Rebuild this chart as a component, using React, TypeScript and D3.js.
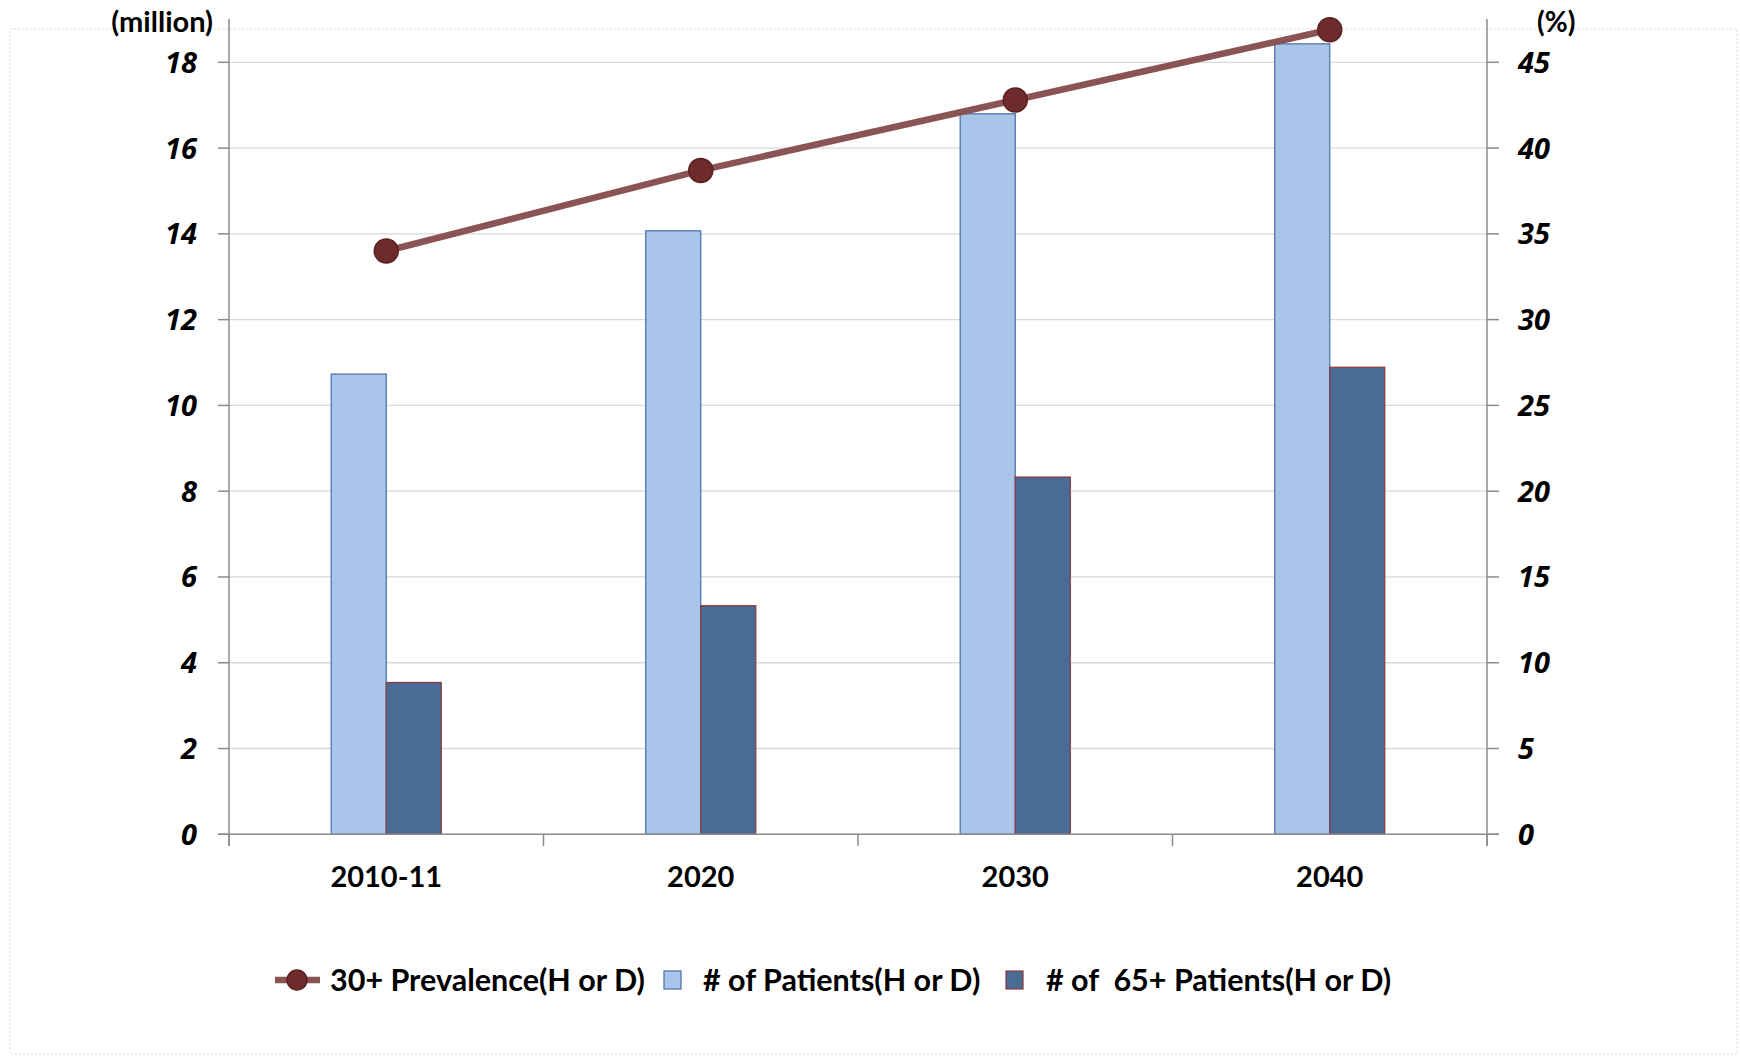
import React from "react";
import * as d3 from "d3";

const categories = ["2010-11", "2020", "2030", "2040"];
const patients = [10.73, 14.07, 16.8, 18.43];
const patients65 = [3.54, 5.33, 8.33, 10.89];
const prevalence = [34.0, 38.7, 42.8, 46.9];
const leftTicks = [0, 2, 4, 6, 8, 10, 12, 14, 16, 18];
const rightTicks = [0, 5, 10, 15, 20, 25, 30, 35, 40, 45];
const legendLabels = ["30+ Prevalence(H or D)", "# of Patients(H or D)", "# of  65+ Patients(H or D)"];

const W = 1740;
const H = 1059;
const X0 = 229;
const X1 = 1487;
const Y0 = 834.3;
const Y1 = 62.3;
const FONT = "Lato, 'Open Sans', sans-serif";

export default function App() {
  const x = d3.scaleBand<string>().domain(categories).range([X0, X1]).padding(0);
  const yL = d3.scaleLinear().domain([0, 18]).range([Y0, Y1]);
  const yR = d3.scaleLinear().domain([0, 45]).range([Y0, Y1]);
  const bw = x.bandwidth() * 0.175;
  const cx = (c: string) => (x(c) as number) + x.bandwidth() / 2;
  const line = d3
    .line<number>()
    .x((_, i) => cx(categories[i]))
    .y((d) => yR(d));

  const bandEdges = [...categories.map((c) => x(c) as number), X1];

  return (
    <div style={{ position: "absolute", left: 0, top: 0 }}>
      <svg width={W} height={H} style={{ display: "block" }}>
        <rect width={W} height={H} fill="#ffffff" />
        <rect x={10} y={29} width={1727} height={1025} fill="none" stroke="#f3ecec" strokeWidth={2} strokeDasharray="2 2" />
        {/* gridlines */}
        {leftTicks.filter((t) => t > 0).map((t) => (
          <line key={"g" + t} x1={X0} x2={X1} y1={yL(t)} y2={yL(t)} stroke="#d9d9d9" strokeWidth={1.3} />
        ))}
        {/* bars */}
        {categories.map((c, i) => (
          <g key={c}>
            <rect x={cx(c) - bw} y={yL(patients[i])} width={bw} height={Y0 - yL(patients[i])} fill="#a9c5ea" stroke="#4f76ab" strokeWidth={1.3} />
            <rect x={cx(c)} y={yL(patients65[i])} width={bw} height={Y0 - yL(patients65[i])} fill="#4a6b96" stroke="#8a3b3b" strokeWidth={1.2} />
          </g>
        ))}
        {/* axes */}
        <line x1={X0} x2={X0} y1={19} y2={846} stroke="#8c8c8c" strokeWidth={1.5} />
        <line x1={X1} x2={X1} y1={19} y2={846} stroke="#8c8c8c" strokeWidth={1.5} />
        <line x1={218} x2={1499} y1={Y0} y2={Y0} stroke="#8c8c8c" strokeWidth={1.5} />
        {bandEdges.map((e, i) => (
          <line key={"bt" + i} x1={e} x2={e} y1={Y0} y2={846} stroke="#8c8c8c" strokeWidth={1.5} />
        ))}
        {leftTicks.map((t) => (
          <g key={"l" + t}>
            <line x1={218} x2={X0} y1={yL(t)} y2={yL(t)} stroke="#8c8c8c" strokeWidth={1.5} />
            <text x={197} y={yL(t)} dy="0.36em" textAnchor="end" fontFamily="'Open Sans', sans-serif" fontWeight="bold" fontStyle="italic" fontSize={29} fill="#000">
              {t}
            </text>
          </g>
        ))}
        {rightTicks.map((t) => (
          <g key={"r" + t}>
            <line x1={X1} x2={1499} y1={yR(t)} y2={yR(t)} stroke="#8c8c8c" strokeWidth={1.5} />
            <text x={1518} y={yR(t)} dy="0.36em" textAnchor="start" fontFamily="'Open Sans', sans-serif" fontWeight="bold" fontStyle="italic" fontSize={29} fill="#000">
              {t}
            </text>
          </g>
        ))}
        <text x={213} y={22} dy="0.36em" textAnchor="end" fontFamily={FONT} fontWeight="bold" fontSize={29} fill="#000">(million)</text>
        <text x={1537} y={22} dy="0.36em" textAnchor="start" fontFamily={FONT} fontWeight="bold" fontSize={28} fill="#000">(%)</text>
        {categories.map((c) => (
          <text key={"xl" + c} x={cx(c)} y={877} dy="0.36em" textAnchor="middle" fontFamily={FONT} fontWeight="bold" fontSize={29} fill="#000">
            {c}
          </text>
        ))}
        {/* line series */}
        <path d={line(prevalence) || ""} fill="none" stroke="#8a5454" strokeWidth={6.5} />
        {prevalence.map((v, i) => (
          <circle key={"m" + i} cx={cx(categories[i])} cy={yR(v)} r={12} fill="#6e2b2b" stroke="#5c2020" strokeWidth={1.5} />
        ))}
        {/* legend */}
        <g>
          <line x1={275} x2={320} y1={980} y2={980} stroke="#8a5454" strokeWidth={6.5} />
          <circle cx={297} cy={980} r={10} fill="#6e2b2b" stroke="#5c2020" strokeWidth={1.5} />
          <text x={330} y={980} dy="0.36em" fontFamily={FONT} fontWeight="bold" fontSize={30.5} fill="#000">{legendLabels[0]}</text>
          <rect x={664} y={971} width={17} height={18} fill="#a9c5ea" stroke="#4f76ab" strokeWidth={1.3} />
          <text x={703} y={980} dy="0.36em" fontFamily={FONT} fontWeight="bold" fontSize={30.5} fill="#000">{legendLabels[1]}</text>
          <rect x={1006} y={971} width={17} height={18} fill="#4a6b96" stroke="#8a3b3b" strokeWidth={1.2} />
          <text x={1046} y={980} dy="0.36em" fontFamily={FONT} fontWeight="bold" fontSize={30.5} fill="#000" style={{ whiteSpace: "pre" }}>{legendLabels[2]}</text>
        </g>
      </svg>
    </div>
  );
}
